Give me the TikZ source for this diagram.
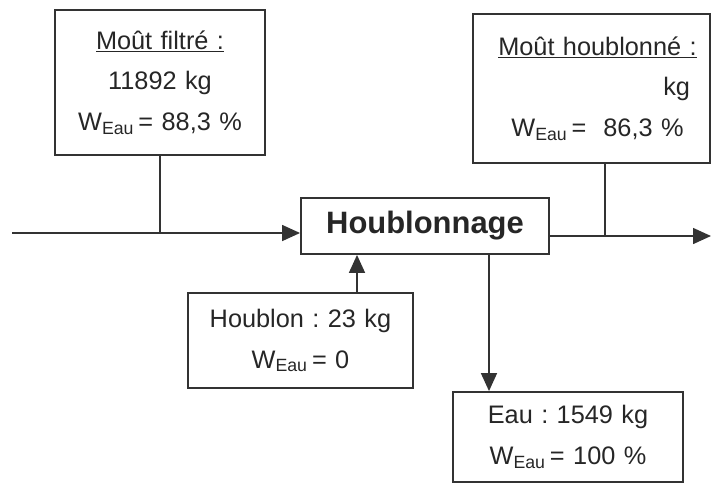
\documentclass[tikz,border=0pt]{standalone}
\usepackage{fontspec}
\setmainfont{Liberation Sans}
\usetikzlibrary{positioning}
\usetikzlibrary{arrows.meta}

\newcommand{\weau}{W\textsubscript{Eau}}
\frenchspacing

\begin{document}
\begin{tikzpicture}[
		  x=0.025cm, y=-0.025cm,
		  every node/.style = {shape=rectangle, draw=black!80, line width=1.3pt, align=center, inner sep=0pt, text=black!85, font=\fontsize{18}{29}\selectfont},
		  stream/.style = {line width=1.1pt, draw=black!80},
		  flow/.style = {stream, -{Triangle[length=0.45cm, width=0.4cm]}}
		]
		  \useasboundingbox (0,0) rectangle (711,488);

		  % bilan autour du houblonnage
		  \node (houb) at (425,226) [minimum width=6.2cm, minimum height=1.4cm, font=\fontsize{22}{26}\selectfont\bfseries] {Houblonnage};
		  \node (filtre) at (160,82.5) [text width=5.25cm, minimum height=3.625cm] {\underline{Moût filtré :}\\ 11892 kg\\ \weau\,= 88,3 \%};
		  \node (houblonne) at (591.5,88.5) [text width=5.925cm, minimum height=3.725cm] {\hspace*{0.3cm}\underline{Moût houblonné :}\\ \hfill kg\kern0.5cm\\ \hspace*{0.3cm}\weau\,=~ 86,3 \%};
		  \node (houblon) at (300.5,340.5) [text width=5.625cm, minimum height=2.375cm] {Houblon : 23 kg\\ \weau\,= 0};
		  \node (eau) at (568,437) [text width=5.75cm, minimum height=2.25cm] {Eau : 1549 kg\\ \weau\,= 100 \%};

		  \coordinate (in) at (12,233);
		  \coordinate (out) at (711,236);
		  \coordinate (tap) at (605,236);
		  \coordinate (hop) at (357,300);
		  \coordinate (vap) at (489,300);

		  \draw[flow] (in) -- (in -| houb.west);
		  \draw[stream] (filtre.south) -- (filtre.south |- in);
		  \draw[flow] (houb.east |- out) -- (out);
		  \draw[stream] (tap |- houblonne.south) -- (tap);
		  \draw[flow] (hop |- houblon.north) -- (hop |- houb.south);
		  \draw[flow] (vap |- houb.south) -- (vap |- eau.north);
		\end{tikzpicture}
\end{document}
